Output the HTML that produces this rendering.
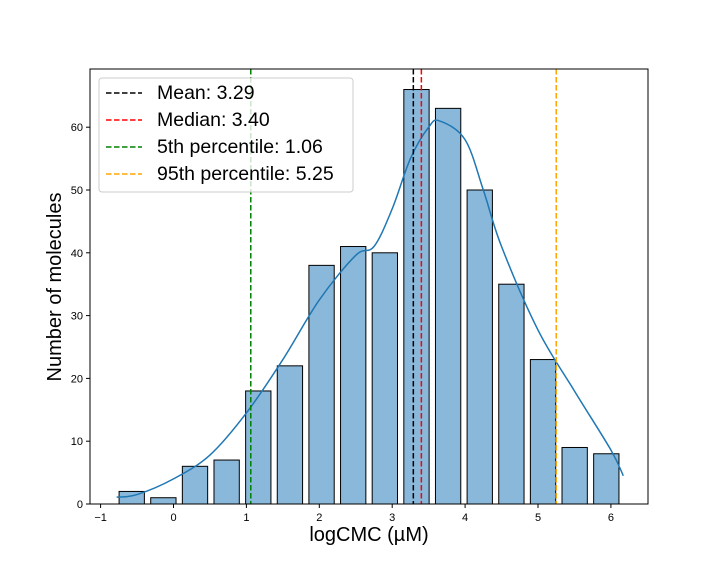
<!DOCTYPE html>
<html><head><meta charset="utf-8"><style>
body{margin:0;background:#fff;}
svg{font-family:"Liberation Sans","DejaVu Sans",sans-serif;}
</style></head><body>
<svg id="c" width="720" height="576"></svg>
<script>
const binStart=-0.79, binWidth=0.434;
const counts=[2,1,6,7,18,22,38,41,40,66,63,50,35,23,9,8];
const kdeX=[-0.78,-0.5,0,0.5,1,1.5,2,2.5,2.75,3,3.25,3.5,3.65,4,4.25,4.5,5,5.5,6,6.17];
const kdeY=[1.1,1.5,4,7.8,14.5,23,32.5,39.6,41,47,55,60,61,58,50,41,27.7,18,8.6,4.5];
const xTicks=[-1,0,1,2,3,4,5,6];
const yTicks=[0,10,20,30,40,50,60];
const refNames=["Mean: 3.29","Median: 3.40","5th percentile: 1.06","95th percentile: 5.25"];
const refValues=[3.29,3.40,1.06,5.25];
const refColors=["#000000","#ff0000","#008000","#ffa500"];
const L=90,R=648,T=69,B=504;
const xs=v=>173.5+v*72.9, ys=v=>B-v*6.28;
const svg=document.getElementById('c');const NS="http://www.w3.org/2000/svg";
function mk(t,a,p){const e=document.createElementNS(NS,t);for(const k in a)e.setAttribute(k,a[k]);(p||svg).appendChild(e);return e;}
counts.forEach((c,i)=>{const x0=xs(binStart+i*binWidth+binWidth*0.1),x1=xs(binStart+(i+0.9)*binWidth);
const r=mk('rect',{x:x0,y:ys(c),width:x1-x0,height:ys(0)-ys(c),fill:'#8ab8da',stroke:'#000','stroke-width':1});

});
const P=kdeX.map((x,i)=>[xs(x),ys(kdeY[i])]);
let d='M'+P[0][0]+' '+P[0][1];
for(let i=0;i<P.length-1;i++){const p0=P[Math.max(i-1,0)],p1=P[i],p2=P[i+1],p3=P[Math.min(i+2,P.length-1)];
const c1=[p1[0]+(p2[0]-p0[0])/6,p1[1]+(p2[1]-p0[1])/6],c2=[p2[0]-(p3[0]-p1[0])/6,p2[1]-(p3[1]-p1[1])/6];
d+=`C${c1[0]} ${c1[1]} ${c2[0]} ${c2[1]} ${p2[0]} ${p2[1]}`;}
const kp=mk('path',{d:d,fill:'none',stroke:'#1f77b4','stroke-width':1.5});


refValues.forEach((v,i)=>{const l=mk('line',{x1:xs(v),x2:xs(v),y1:T,y2:B,stroke:refColors[i],'stroke-width':1.5,'stroke-dasharray':'5.5,2.5'});

});
const ax=mk('rect',{x:L,y:T,width:R-L,height:B-T,fill:'none',stroke:'#000','stroke-width':1});


xTicks.forEach(t=>{mk('line',{x1:xs(t),x2:xs(t),y1:B,y2:B+4,stroke:'#000'});
const tx=mk('text',{x:xs(t),y:B+17,'font-size':11,'text-anchor':'middle'});tx.textContent=t<0?'\u2212'+(-t):t;

});
yTicks.forEach(t=>{mk('line',{x1:L-4,x2:L,y1:ys(t),y2:ys(t),stroke:'#000'});
const tx=mk('text',{x:L-7,y:ys(t)+4,'font-size':11,'text-anchor':'end'});tx.textContent=t;

});
const xl=mk('text',{x:369,y:541,'font-size':20,'text-anchor':'middle'});xl.textContent='logCMC (\u00b5M)';


const yl=mk('text',{x:0,y:0,'font-size':20,'text-anchor':'middle',transform:'translate(61,287) rotate(-90)'});yl.textContent='Number of molecules';


const lg=mk('g',{});


mk('rect',{x:99,y:78,width:254,height:114,rx:3,fill:'#fff','fill-opacity':0.8,stroke:'#ccc'},lg);
refNames.forEach((n,i)=>{const y=93+i*27;
mk('line',{x1:106,x2:142,y1:y,y2:y,stroke:refColors[i],'stroke-width':1.5,'stroke-dasharray':'5.5,2.5'},lg);
const t=mk('text',{x:157,y:y+6,'font-size':19.5},lg);t.textContent=n;

});
</script>
</body></html>
